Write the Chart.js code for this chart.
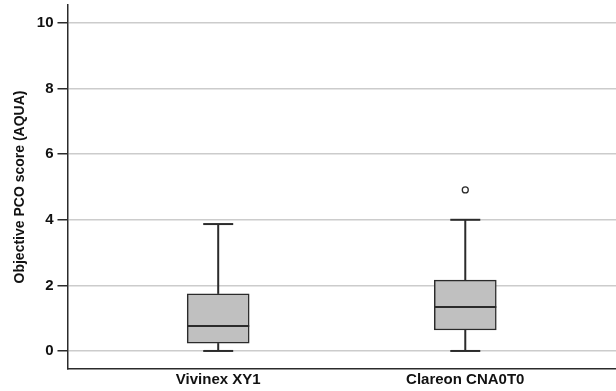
<!DOCTYPE html>
<html>
<head>
<meta charset="utf-8">
<script src="https://cdn.jsdelivr.net/npm/chart.js@4"></script>
<style>
  html, body { margin: 0; padding: 0; background: #fff; }
  #wrap { width: 616px; height: 391px; }
</style>
</head>
<body>
<div id="wrap"><canvas id="chart"></canvas></div>
<script>
/* box plot data */
const categories  = ['Vivinex XY1', 'Clareon CNA0T0'];
const whiskerLow  = [0, 0];
const q1          = [0.24, 0.64];
const median      = [0.76, 1.34];
const q3          = [1.74, 2.16];
const whiskerHigh = [3.87, 4.0];
const outliers    = [[], [4.91]];
const yTicks      = [0, 2, 4, 6, 8, 10];

const INK = '#2b2b2b';

/* whiskers, caps and median lines drawn on top of the floating bars */
const boxPlugin = {
  id: 'boxParts',
  afterDatasetsDraw(chart) {
    const { ctx, scales: { x, y } } = chart;
    ctx.save();
    ctx.strokeStyle = INK;
    ctx.lineWidth = 2;
    categories.forEach((c, i) => {
      const cx = x.getPixelForValue(i + 1);
      const line = (x1, y1, x2, y2) => {
        ctx.beginPath(); ctx.moveTo(x1, y1); ctx.lineTo(x2, y2); ctx.stroke();
      };
      const cap = 15, half = 31;
      line(cx, y.getPixelForValue(q3[i]), cx, y.getPixelForValue(whiskerHigh[i]));
      line(cx, y.getPixelForValue(q1[i]), cx, y.getPixelForValue(whiskerLow[i]));
      line(cx - cap, y.getPixelForValue(whiskerHigh[i]), cx + cap, y.getPixelForValue(whiskerHigh[i]));
      line(cx - cap, y.getPixelForValue(whiskerLow[i]), cx + cap, y.getPixelForValue(whiskerLow[i]));
      line(cx - half, y.getPixelForValue(median[i]), cx + half, y.getPixelForValue(median[i]));
    });
    ctx.restore();
  },
};

/* drop the label overhang padding so the plot area fills the frame */
const noPad = s => { s.paddingTop = 0; s.paddingBottom = 0; s.paddingLeft = 0; s.paddingRight = 0; };

new Chart(document.getElementById('chart'), {
  type: 'bar',
  data: {
    datasets: [
      {
        label: 'IQR',
        data: categories.map((c, i) => ({ x: i + 1, y: [q1[i], q3[i]] })),
        backgroundColor: '#c0c0c0',
        borderColor: INK,
        borderWidth: 1.5,
        borderSkipped: false,
        barThickness: 62,
      },
      {
        type: 'scatter',
        label: 'Outliers',
        data: outliers.flatMap((arr, i) => arr.map(v => ({ x: i + 1, y: v }))),
        pointStyle: 'circle',
        pointRadius: 3,
        backgroundColor: '#fff',
        borderColor: INK,
        borderWidth: 1.3,
      },
    ],
  },
  options: {
    responsive: true,
    maintainAspectRatio: false,
    animation: false,
    layout: { autoPadding: false, padding: { top: 5, right: 0, left: 12, bottom: 0 } },
    plugins: { legend: { display: false }, tooltip: { enabled: false } },
    scales: {
      x: {
        type: 'linear',
        offset: false,
        min: 0.39,
        max: 2.61,
        afterBuildTicks: s => { s.ticks = categories.map((c, i) => ({ value: i + 1 })); },
        afterFit: noPad,
        grid: { display: true, drawOnChartArea: false, drawTicks: false },
        border: { color: INK, width: 1.5 },
        ticks: {
          color: '#111',
          padding: 2,
          maxRotation: 0,
          font: { family: 'Liberation Sans', weight: 'bold', size: 15 },
          callback: v => categories[v - 1],
        },
      },
      y: {
        min: -0.55,
        max: 10.55,
        afterBuildTicks: s => { s.ticks = yTicks.map(v => ({ value: v })); },
        afterFit: noPad,
        grid: { color: '#cccccc', lineWidth: 1.5, tickColor: INK, tickLength: 10 },
        border: { color: INK, width: 1.5 },
        ticks: {
          color: '#111',
          padding: 4,
          font: { family: 'Liberation Sans', weight: 'bold', size: 15 },
        },
        title: {
          display: true,
          text: 'Objective PCO score (AQUA)',
          color: '#111',
          padding: { top: 0, bottom: 4 },
          font: { family: 'Liberation Sans', weight: 'bold', size: 14 },
        },
      },
    },
  },
  plugins: [boxPlugin],
});
</script>
</body>
</html>
